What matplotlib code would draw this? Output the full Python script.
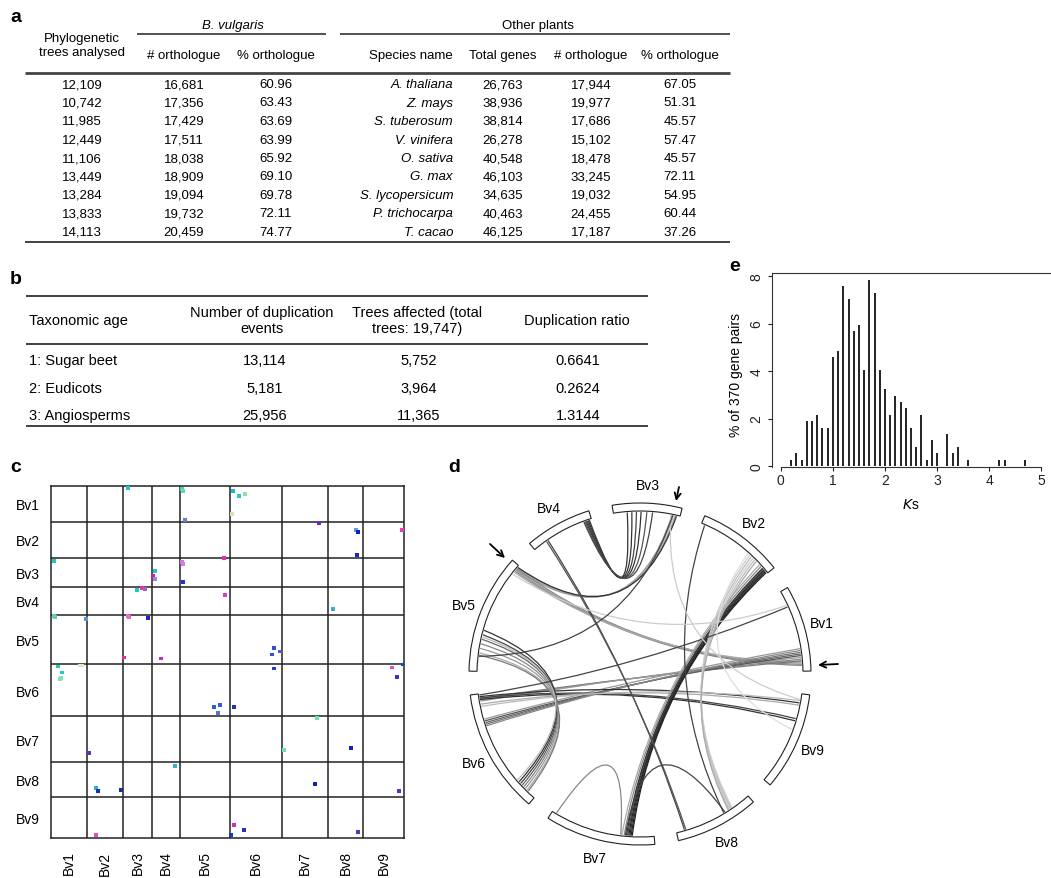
import matplotlib
matplotlib.use("Agg")
import matplotlib.pyplot as plt
from matplotlib.patches import Wedge, PathPatch
from matplotlib.path import Path
import numpy as np

plt.rcParams['font.family'] = ['Liberation Sans', 'DejaVu Sans']
NARROW = ['Liberation Sans Narrow', 'Liberation Sans', 'DejaVu Sans']

# ---------------- panel a: orthologue table ----------------
trees_analysed = [12109, 10742, 11985, 12449, 11106, 13449, 13284, 13833, 14113]
bv_orth = [16681, 17356, 17429, 17511, 18038, 18909, 19094, 19732, 20459]
bv_pct = [60.96, 63.43, 63.69, 63.99, 65.92, 69.10, 69.78, 72.11, 74.77]
species = ["A. thaliana", "Z. mays", "S. tuberosum", "V. vinifera", "O. sativa",
           "G. max", "S. lycopersicum", "P. trichocarpa", "T. cacao"]
total_genes = [26763, 38936, 38814, 26278, 40548, 46103, 34635, 40463, 46125]
other_orth = [17944, 19977, 17686, 15102, 18478, 33245, 19032, 24455, 17187]
other_pct = [67.05, 51.31, 45.57, 57.47, 45.57, 72.11, 54.95, 60.44, 37.26]

# ---------------- panel b: duplication table ----------------
tax_age = ["1: Sugar beet", "2: Eudicots", "3: Angiosperms"]
dup_events = [13114, 5181, 25956]
trees_affected = [5752, 3964, 11365]
dup_ratio = [0.6641, 0.2624, 1.3144]

# ---------------- chromosomes (shared by c and d) ----------------
chrom_names = ["Bv1", "Bv2", "Bv3", "Bv4", "Bv5", "Bv6", "Bv7", "Bv8", "Bv9"]
chrom_len = [36, 36, 29, 28, 50, 52, 46, 35, 41]

# ---------------- panel c: dot plot (cumulative positions) ----------------
dot_x = [77, 131, 132, 182, 188, 194, 181, 134,
         268, 305, 307, 351, 306,
         3, 131, 132, 173, 104, 102, 104, 132,
         86, 91, 94, 174, 282,
         3, 4, 35, 77, 78, 97, 73, 110, 223, 221, 229,
         223, 7, 11, 9, 10, 29, 31, 341, 352, 346, 163, 169, 167, 183,
         266, 38, 233, 300,
         124, 45, 47, 70, 264, 348,
         45, 183, 193, 180, 307]
dot_y = [2, 3, 5, 5, 10, 8, 28, 34,
         37, 44, 46, 44, 69,
         75, 76, 78, 72, 85, 90, 93, 96,
         104, 102, 103, 109, 123,
         130, 131, 133, 130, 131, 132, 172, 173, 162, 169, 166,
         183, 181, 187, 194, 193, 180, 180, 182, 179, 192, 222, 220, 228, 222,
         233, 268, 265, 263,
         281, 303, 306, 305, 299, 306,
         350, 340, 345, 350, 347]
dot_color = ['#20c8c8', '#50d0b0', '#60d8b0', '#10c0d0', '#20c8c8', '#90e0a0', '#d8e0b8', '#6080d0',
             '#6a28c8', '#60a0e0', '#1020c8', '#e040b8', '#1828c0',
             '#20c8c8', '#e070d0', '#d080e0', '#e030b0', '#20c8c8', '#c020b0', '#a080e0', '#2030d0',
             '#20c8c8', '#e030b0', '#a060d0', '#d040c0', '#40a8c8',
             '#60d0b8', '#60d0b8', '#6090e0', '#e070d0', '#e070d0', '#2020d0', '#e030a0', '#c030c0',
             '#3050d0', '#3050d0', '#5060c0',
             '#2040d0', '#20c8c8', '#20c8c8', '#80e0c0', '#80e0c0', '#e0e8c0', '#e0e8c0', '#e050b0',
             '#0050c0', '#4030c0', '#3060d0', '#3060d0', '#6070c0', '#2030c0',
             '#70e0a8', '#6030c0', '#70e0a8', '#1020c0',
             '#30b0d0', '#30b0d0', '#1030c0', '#1030a0', '#1020d0', '#6030c0',
             '#e050b0', '#d030b0', '#3030c0', '#1040c0', '#6030c0']

# ---------------- panel d: syntenic links (chromosome, position) ----------------
link_chr_a = ["Bv4", "Bv4", "Bv4", "Bv4", "Bv4", "Bv4",
              "Bv3", "Bv3", "Bv3", "Bv3",
              "Bv5", "Bv5", "Bv5", "Bv5",
              "Bv1", "Bv1", "Bv1", "Bv1", "Bv1", "Bv1", "Bv1", "Bv1",
              "Bv9", "Bv9", "Bv9", "Bv9", "Bv9",
              "Bv5", "Bv5", "Bv5", "Bv5", "Bv5", "Bv5", "Bv5", "Bv5",
              "Bv2", "Bv2", "Bv2", "Bv2", "Bv2", "Bv2", "Bv2", "Bv2",
              "Bv2", "Bv2", "Bv2", "Bv2", "Bv2",
              "Bv2", "Bv4", "Bv4", "Bv7", "Bv8", "Bv1", "Bv1", "Bv3", "Bv5", "Bv9"]
link_pos_a = [1.0, 1.5, 2.0, 2.5, 3.0, 3.5,
              2.0, 2.8, 3.5, 1.5,
              1.5, 2.2, 2.8, 3.4,
              4.5, 5.2, 6.0, 6.8, 7.5, 8.2, 9.0, 9.8,
              37.0, 30.0, 29.0, 36.0, 38.0,
              32, 34, 36, 38, 40, 42, 43, 35,
              0.5, 1.0, 1.5, 2.0, 2.5, 3.0, 4.0, 5.0,
              8, 9, 10, 11, 7,
              34.5, 21.0, 21.8, 1.9, 22.8, 28.7, 29.5, 4.0, 43.5, 25]
link_chr_b = ["Bv3", "Bv3", "Bv3", "Bv3", "Bv3", "Bv3",
              "Bv5", "Bv5", "Bv5", "Bv5",
              "Bv1", "Bv1", "Bv1", "Bv1",
              "Bv6", "Bv6", "Bv6", "Bv6", "Bv6", "Bv6", "Bv6", "Bv6",
              "Bv6", "Bv6", "Bv6", "Bv6", "Bv6",
              "Bv6", "Bv6", "Bv6", "Bv6", "Bv6", "Bv6", "Bv6", "Bv6",
              "Bv7", "Bv7", "Bv7", "Bv7", "Bv7", "Bv7", "Bv7", "Bv7",
              "Bv8", "Bv8", "Bv8", "Bv8", "Bv8",
              "Bv8", "Bv8", "Bv8", "Bv7", "Bv7", "Bv6", "Bv5", "Bv9", "Bv3", "Bv2"]
link_pos_b = [23.0, 21.0, 19.0, 17.0, 14.5, 12.0,
              1.0, 1.5, 2.0, 0.8,
              3.0, 3.6, 2.5, 4.2,
              2.0, 2.6, 3.2, 12.0, 12.8, 13.5, 14.2, 11.2,
              1.2, 1.8, 2.5, 4.5, 5.5,
              42.5, 43.5, 44.5, 45.5, 46.5, 47.5, 48.2, 41.5,
              36.5, 36.0, 35.5, 35.0, 34.5, 34.0, 33.0, 32.0,
              25, 25.5, 26, 26.5, 24.5,
              22.2, 3.6, 4.2, 31.5, 33.5, 0.5, 4.5, 38.5, 3.2, 12]
link_shade = ['#333333', '#333333', '#444444', '#333333', '#555555', '#444444',
              '#999999', '#aaaaaa', '#999999', '#333333',
              '#888888', '#999999', '#888888', '#aaaaaa',
              '#777777', '#888888', '#999999', '#555555', '#666666', '#777777', '#888888', '#999999',
              '#333333', '#444444', '#333333', '#aaaaaa', '#bbbbbb',
              '#333333', '#444444', '#666666', '#888888', '#999999', '#aaaaaa', '#777777', '#bbbbbb',
              '#222222', '#222222', '#333333', '#222222', '#444444', '#333333', '#888888', '#aaaaaa',
              '#bbbbbb', '#cccccc', '#bbbbbb', '#cccccc', '#aaaaaa',
              '#444444', '#444444', '#555555', '#888888', '#444444', '#444444', '#cccccc', '#cccccc',
              '#444444', '#dddddd']

# ---------------- panel e: Ks distribution ----------------
ks_bin = [0.2, 0.3, 0.4, 0.5, 0.6, 0.7, 0.8, 0.9, 1.0, 1.1, 1.2, 1.3, 1.4, 1.5, 1.6, 1.7, 1.8, 1.9,
          2.0, 2.1, 2.2, 2.3, 2.4, 2.5, 2.6, 2.7, 2.8, 2.9, 3.0, 3.2, 3.3, 3.4, 3.6, 4.2, 4.3, 4.7]
ks_pct = [0.27, 0.54, 0.27, 1.89, 1.89, 2.16, 1.62, 1.62, 4.59, 4.86, 7.57, 7.03, 5.68, 5.95, 4.05,
          7.84, 7.30, 4.05, 3.24, 2.16, 2.97, 2.70, 2.43, 1.62, 0.81, 2.16, 0.27, 1.08, 0.54, 1.35,
          0.54, 0.81, 0.27, 0.27, 0.27, 0.27]

W, H = 1051, 879
fig = plt.figure(figsize=(W / 100, H / 100), dpi=100)


def box(left, top, right, bottom):
    return [left / W, 1 - bottom / H, (right - left) / W, (bottom - top) / H]


# overlay in pixel coordinates for the tables and panel letters
ax0 = fig.add_axes([0, 0, 1, 1])
ax0.set_xlim(0, W)
ax0.set_ylim(H, 0)
ax0.axis('off')

for lab, x, y in [("a", 16, 17), ("b", 16, 280), ("c", 16, 468), ("d", 454, 468), ("e", 735, 267)]:
    ax0.text(x, y, lab, fontsize=14, fontweight='bold', ha='center', va='center')

# table a
fs_a = 9.5
ax0.text(233, 26, "B. vulgaris", style='italic', fontsize=fs_a, family=NARROW, ha='center', va='center')
ax0.text(538, 26, "Other plants", fontsize=fs_a, family=NARROW, ha='center', va='center')
ax0.hlines(35, 137, 326, color='#333333', lw=1.2)
ax0.hlines(35, 340, 730, color='#333333', lw=1.2)
ax0.text(82, 46, "Phylogenetic\ntrees analysed", fontsize=fs_a, family=NARROW, ha='center', va='center',
         linespacing=1.25)
col_x = [82, 184, 276, 453, 503, 591, 680]
heads = ["# orthologue", "% orthologue", "Species name", "Total genes", "# orthologue", "% orthologue"]
for i, h in enumerate(heads):
    ha = 'center'
    x = col_x[i + 1]
    if i == 2:
        ha = 'right'
    ax0.text(x, 56, h, fontsize=fs_a, family=NARROW, ha=ha, va='center')
ax0.hlines(74, 25, 730, color='#444444', lw=2.0)
for r in range(len(species)):
    y = 85 + 18.5 * r
    vals = [f"{trees_analysed[r]:,}", f"{bv_orth[r]:,}", f"{bv_pct[r]:.2f}", species[r],
            f"{total_genes[r]:,}", f"{other_orth[r]:,}", f"{other_pct[r]:.2f}"]
    for c, v in enumerate(vals):
        if c == 3:
            ax0.text(col_x[c], y, v, fontsize=fs_a, family=NARROW, style='italic', ha='right', va='center')
        else:
            ax0.text(col_x[c], y, v, fontsize=fs_a, family=NARROW, ha='center', va='center')
ax0.hlines(243, 25, 730, color='#333333', lw=1.3)

# table b
fs_b = 10.5
ax0.hlines(297, 26, 648, color='#333333', lw=1.3)
ax0.text(29, 321, "Taxonomic age", fontsize=fs_b, family=NARROW, ha='left', va='center')
ax0.text(262, 321, "Number of duplication\nevents", fontsize=fs_b, family=NARROW, ha='center', va='center',
         linespacing=1.15)
ax0.text(417, 321, "Trees affected (total\ntrees: 19,747)", fontsize=fs_b, family=NARROW, ha='center',
         va='center', linespacing=1.15)
ax0.text(577, 321, "Duplication ratio", fontsize=fs_b, family=NARROW, ha='center', va='center')
ax0.hlines(345, 26, 648, color='#333333', lw=1.3)
for r, y in enumerate([361, 389, 416]):
    ax0.text(29, y, tax_age[r], fontsize=fs_b, family=NARROW, ha='left', va='center')
    ax0.text(265, y, f"{dup_events[r]:,}", fontsize=fs_b, family=NARROW, ha='center', va='center')
    ax0.text(419, y, f"{trees_affected[r]:,}", fontsize=fs_b, family=NARROW, ha='center', va='center')
    ax0.text(578, y, f"{dup_ratio[r]:.4f}", fontsize=fs_b, family=NARROW, ha='center', va='center')
ax0.hlines(427, 26, 648, color='#333333', lw=1.3)

# ---------------- panel c ----------------
axc = fig.add_axes(box(51, 487, 404, 839))
edges = np.concatenate([[0], np.cumsum(chrom_len)])
total = edges[-1]
axc.set_xlim(0, total)
axc.set_ylim(total, 0)
for e in edges[1:-1]:
    axc.axvline(e, color='#222222', lw=1.1)
    axc.axhline(e, color='#222222', lw=1.1)
for s in axc.spines.values():
    s.set_linewidth(1.1)
    s.set_color('#222222')
mids = (edges[:-1] + edges[1:]) / 2
axc.set_xticks(mids)
axc.set_xticklabels(chrom_names, rotation=90)
axc.set_yticks(mids)
axc.set_yticklabels(chrom_names)
axc.tick_params(axis='x', length=0, labelsize=10, pad=9)
axc.tick_params(axis='y', length=0, labelsize=10, pad=8)
axc.scatter(dot_x, dot_y, c=dot_color, s=8, marker='s', linewidths=0, zorder=3)

# ---------------- panel d ----------------
axd = fig.add_axes(box(440, 470, 860, 879))
axd.set_xlim(-200, 220)
axd.set_ylim(-204, 205)
axd.axis('off')

gap = 8.0
deg_per = (360 - gap * len(chrom_len)) / total
chrom_start = {}
a0 = 1.0
for name, ln in zip(chrom_names, chrom_len):
    chrom_start[name] = a0
    a0 += ln * deg_per + gap

r_out, r_in = 171, 163
for name, ln in zip(chrom_names, chrom_len):
    t1 = chrom_start[name]
    t2 = t1 + ln * deg_per
    axd.add_patch(Wedge((0, 0), r_out, t1, t2, width=r_out - r_in, facecolor='white',
                        edgecolor='#222222', lw=0.8, zorder=3))
    mid = np.radians((t1 + t2) / 2)
    axd.text(189 * np.cos(mid), 189 * np.sin(mid), name, fontsize=10, ha='center', va='center')


def chrom_point(name, pos, r):
    ang = np.radians(chrom_start[name] + pos * deg_per)
    return np.array([r * np.cos(ang), r * np.sin(ang)])


for ca, pa, cb, pb, col in zip(link_chr_a, link_pos_a, link_chr_b, link_pos_b, link_shade):
    p0 = chrom_point(ca, pa, r_in - 1)
    p2 = chrom_point(cb, pb, r_in - 1)
    ctrl = 0.22 * (p0 + p2) / 2
    path = Path([p0, ctrl, p2], [Path.MOVETO, Path.CURVE3, Path.CURVE3])
    axd.add_patch(PathPatch(path, facecolor='none', edgecolor=col, lw=0.9, zorder=2))

arrow_kw = dict(arrowstyle='->', lw=1.3, color='black', mutation_scale=11, shrinkA=0, shrinkB=0)
axd.annotate('', xy=(36, 173), xytext=(39, 187), arrowprops=arrow_kw)
axd.annotate('', xy=(-135, 116), xytext=(-150, 130), arrowprops=arrow_kw)
axd.annotate('', xy=(178, 9), xytext=(198, 10), arrowprops=arrow_kw)

# ---------------- panel e ----------------
axe = fig.add_axes(box(772, 274, 1051, 468))
axe.vlines(ks_bin, 0, ks_pct, color='#222222', lw=1.4)
axe.set_xlim(-0.17, 5.19)
axe.set_ylim(-0.04, 8.13)
axe.spines['right'].set_visible(False)
axe.spines['bottom'].set_bounds(0, 5)
for s in axe.spines.values():
    s.set_linewidth(0.8)
    s.set_color('#333333')
axe.set_xticks([0, 1, 2, 3, 4, 5])
axe.set_yticks([0, 2, 4, 6, 8])
axe.set_yticklabels(["0", "2", "4", "6", "8"], rotation=90, va='center')
axe.tick_params(direction='out', length=3, width=0.8, labelsize=10, colors='#222222')
axe.tick_params(axis='x', pad=1.5)
axe.tick_params(axis='y', pad=3)
axe.set_ylabel("% of 370 gene pairs", fontsize=10)
axe.yaxis.set_label_coords(-0.105, 0.48)
axe.set_xlabel(r"$\mathit{K}$s", fontsize=10)
axe.xaxis.set_label_coords(0.498, -0.155)

fig.savefig("out.png", dpi=100)
